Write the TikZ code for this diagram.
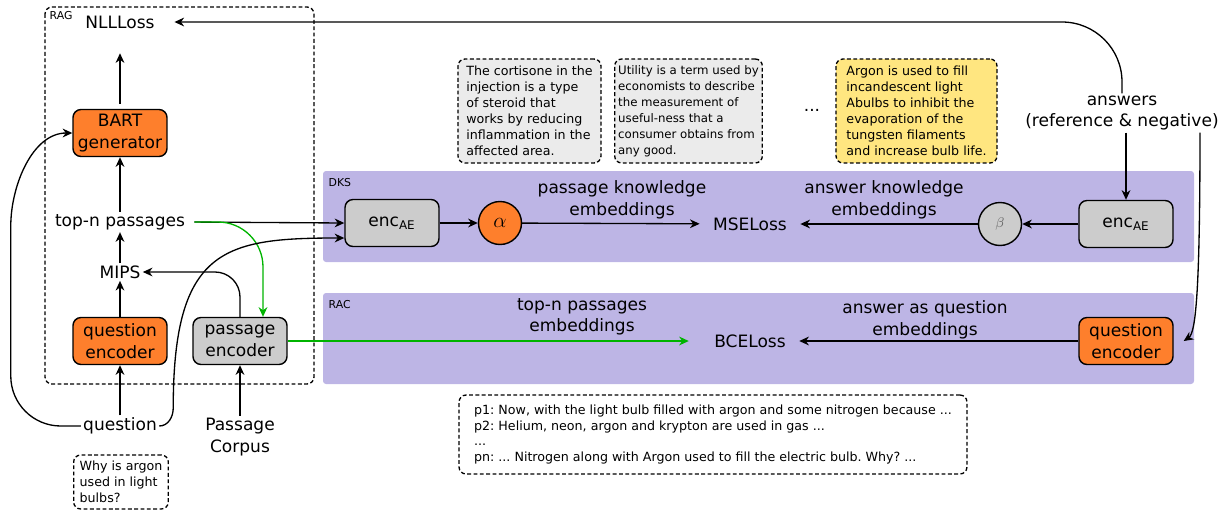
\documentclass[tikz,border=0pt]{standalone}
\usepackage{fontspec}
\setmainfont{DejaVu Sans}
\usetikzlibrary{arrows.meta,positioning}
\definecolor{boxorange}{HTML}{FE7F2C}
\definecolor{boxgray}{HTML}{CCCCCC}
\definecolor{bandpurple}{HTML}{BDB5E5}
\definecolor{noteyellow}{HTML}{FFE680}
\definecolor{notegray}{HTML}{EBEBEB}
\definecolor{flowgreen}{HTML}{00B400}
\frenchspacing

\begin{document}
\begin{tikzpicture}[x=0.02cm,y=-0.02cm,
	font=\fontsize{9.7}{12.2}\selectfont,
	>={Stealth[length=5.5pt,width=5pt]},
	line width=0.75pt,
	block/.style={draw,rounded corners=0.16cm,line width=0.8pt,minimum width=1.88cm,
		minimum height=0.94cm,align=center,inner sep=1pt},
	lbl/.style={align=center,inner sep=1pt},
	note/.style={draw,dash pattern=on 2.2pt off 1.4pt,rounded corners=0.14cm,align=left,
		font=\fontsize{7.2}{9.1}\selectfont,inner xsep=0.12cm,inner ysep=0.1cm},
	band/.style={fill=bandpurple,rounded corners=0.06cm},
	tag/.style={font=\fontsize{6.2}{7}\selectfont,anchor=north west,inner sep=0pt},
	wire/.style={->},
	gwire/.style={->,flowgreen}]
\useasboundingbox (0,0) rectangle (1227,511);

% RAG
\draw[dash pattern=on 2.2pt off 1.4pt,rounded corners=0.14cm] (45,7) rectangle (314,384);
\node[tag] (ragtag) at (49,11) {RAG};
\node[lbl] (nll) at (120,22) {NLLLoss};
\node[block,fill=boxorange] (bart) at (120,133) {BART\\generator};
\node[lbl] (topn) at (120,222) {top-n passages};
\node[lbl] (mips) at (120,272) {MIPS};
\node[block,fill=boxorange] (qenc) at (120,341) {question\\encoder};
\node[block,fill=boxgray] (penc) at (240,341) {passage\\encoder};
\node[lbl] (question) at (120,426) {question};
\node[lbl] (corpus) at (240,437) {Passage\\Corpus};
\node[note,minimum width=1.88cm,minimum height=1.08cm] (qtext) at (121,482) {Why is argon\\used in light\\bulbs?};

% DKS / RAC
\fill[band] (323,171) rectangle (1194,262);
\node[tag] (dkstag) at (328,178) {DKS};
\fill[band] (323,293) rectangle (1194,384);
\node[tag] (ractag) at (328,300) {RAC};

\node[block,fill=boxgray] (encl) at (392,223) {enc\textsubscript{AE}};
\node[circle,draw,fill=boxorange,minimum size=0.86cm,line width=0.8pt] (alpha) at (500,223)
	{\fontsize{13}{13}\selectfont$\alpha$};
\node (mse) at (750,224) {MSELoss};
\node[circle,draw,fill=boxgray,minimum size=0.86cm,line width=0.8pt] (beta) at (1000,224)
	{\textcolor{black!60}{\fontsize{8}{8}\selectfont$\beta$}};
\node[block,fill=boxgray] (encr) at (1126,224) {enc\textsubscript{AE}};
\node[lbl] (pke) at (622,200) {passage knowledge\\embeddings};
\node[lbl] (ake) at (884,200) {answer knowledge\\embeddings};

\node[lbl] (tpe) at (582,317) {top-n passages\\embeddings};
\node (bce) at (750,341) {BCELoss};
\node[lbl] (aqe) at (925,320) {answer as question\\embeddings};
\node[block,fill=boxorange] (qencr) at (1126,341) {question\\encoder};

% knowledge snippets
\node[note,fill=notegray,minimum width=2.86cm,minimum height=2.08cm] (kn1) at (529.5,111) {The cortisone in the\\injection is a type\\of steroid that\\works by reducing\\inflammation in the\\affected area.};
\node[note,fill=notegray,minimum width=2.86cm,minimum height=2.08cm,inner xsep=0.07cm,
	font=\fontsize{6.7}{9.1}\selectfont] (kn2) at (688.5,111) {Utility is a term used by\\economists to describe\\the measurement of\\useful-ness that a\\consumer obtains from\\any good.};
\node (kdots) at (812,110) {...};
\node[note,fill=noteyellow,minimum width=3.22cm,minimum height=2.08cm] (kn3) at (916.5,111) {Argon is used to fill\\incandescent light\\Abulbs to inhibit the\\evaporation of the\\tungsten filaments\\and increase bulb life.};
\node[note,minimum width=10.16cm,minimum height=1.58cm] (plist) at (713,434.5) {p1: Now, with the light bulb filled with argon and some nitrogen because ...\\p2: Helium, neon, argon and krypton are used in gas ...\\...\\pn: ... Nitrogen along with Argon used to fill the electric bulb. Why? ...};

\node[lbl] (answers) at (1122,113) {answers\\(reference \& negative)};

% connectors
\draw[wire,shorten <=3pt,shorten >=0.45cm] (bart) -- (nll);
\draw[wire] (topn) -- (bart);
\draw[wire] (mips) -- (topn);
\draw[wire] (qenc) -- (mips);
\draw[wire] (question) -- (qenc);
\draw[wire] (corpus) -- (penc);
\draw[wire,rounded corners=0.5cm] (penc.north) |- (mips.east);
\draw[wire,shorten <=4pt] (topn.east) -- (encl.west);
\draw[gwire,rounded corners=0.9cm,shorten <=4pt] (topn.east) -| ([xshift=0.46cm]penc.north);
\draw[wire] (question.east) to[out=0,in=-90] ++(14,-18)
	.. controls +(0,-160) and +(-120,0) .. ([yshift=-0.3cm]encl.west);
\draw[wire,rounded corners=1cm] (question.west) -| ++(-70,-150)
	.. controls +(0,-90) and +(-40,0) .. (bart.west);
\draw[wire] (encl) -- (alpha);
\draw[wire,shorten >=4pt] (alpha) -- (mse);
\draw[wire] (encr) -- (beta);
\draw[wire,shorten >=4pt] (beta) -- (mse);
\draw[gwire,shorten >=0.38cm] (penc.east) -- (bce.west);
\draw[wire,shorten >=4pt] (qencr) -- (bce);
\draw[wire] (answers.south -| encr.north) -- (encr.north);
\draw[wire,rounded corners=1.2cm,shorten >=0.35cm] (answers.north) |- (nll.east);
\draw[wire] ([xshift=1.56cm]answers.south) .. controls +(0,160) and +(12,-8) .. ([xshift=0.2cm]qencr.east);
\end{tikzpicture}
\end{document}
